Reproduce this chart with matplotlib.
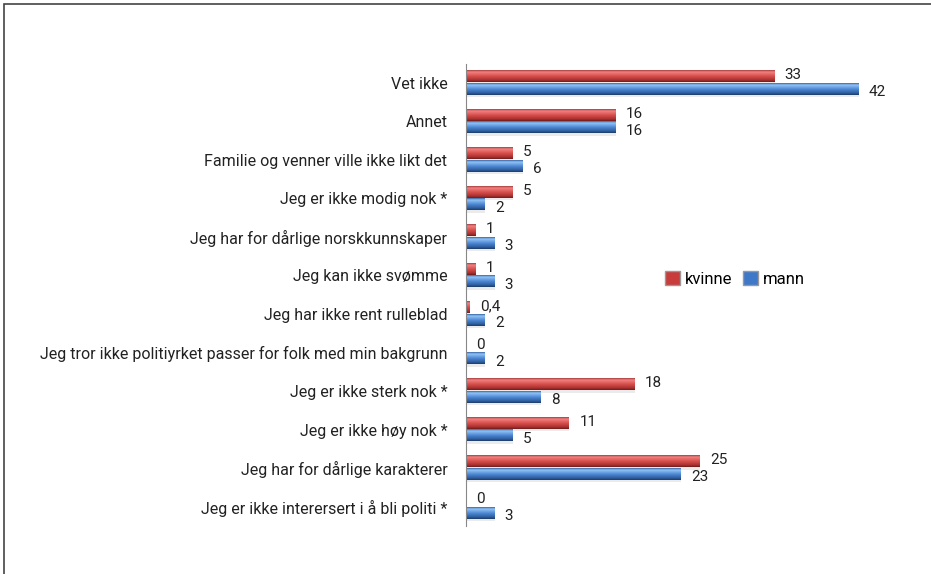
import numpy as np
import matplotlib
matplotlib.use("Agg")
import matplotlib.pyplot as plt
from matplotlib.colors import LinearSegmentedColormap
from matplotlib.patches import Patch, Rectangle

plt.rcParams['font.family'] = ['Roboto', 'DejaVu Sans']

# Données
categories = [
    "Vet ikke",
    "Annet",
    "Familie og venner ville ikke likt det",
    "Jeg er ikke modig nok *",
    "Jeg har for dårlige norskkunnskaper",
    "Jeg kan ikke svømme",
    "Jeg har ikke rent rulleblad",
    "Jeg tror ikke politiyrket passer for folk med min bakgrunn",
    "Jeg er ikke sterk nok *",
    "Jeg er ikke høy nok *",
    "Jeg har for dårlige karakterer",
    "Jeg er ikke interersert i å bli politi *",
]
kvinne = [33, 16, 5, 5, 1, 1, 0.4, 0, 18, 11, 25, 0]
mann = [42, 16, 6, 2, 3, 3, 2, 2, 8, 5, 23, 3]
series_names = ["kvinne", "mann"]

cmap_rouge = LinearSegmentedColormap.from_list(
    "rouge", [(0, "#a84040"), (0.15, "#f28282"), (0.5, "#d8504c"), (0.85, "#a83030"), (1, "#6e1c1c")])
cmap_bleu = LinearSegmentedColormap.from_list(
    "bleu", [(0, "#3a6aa8"), (0.15, "#92c4f6"), (0.5, "#4f8ad6"), (0.85, "#2d5c9c"), (1, "#1d3d6a")])

def etiquette(v):
    s = f"{v:g}"
    return s.replace(".", ",")

fig = plt.figure(figsize=(9.31, 5.74), dpi=100)
ax = fig.add_axes([0.5, 0.084, 0.4513, 0.805])

y = np.arange(len(categories))
h = 0.29
decal = 0.166
grad = np.linspace(0, 1, 32).reshape(-1, 1)

for valeurs, cm, sens in [(kvinne, cmap_rouge, -1), (mann, cmap_bleu, 1)]:
    for yi, v in zip(y, valeurs):
        yc = yi + sens * decal
        if v > 0:
            # ombre
            ax.barh(yc + 0.06, v + 0.12, height=h, color="#000000", alpha=0.08, zorder=1)
            ax.imshow(grad, cmap=cm, aspect="auto", interpolation="bilinear",
                      extent=(0, v, yc + h / 2, yc - h / 2), zorder=2)
        dy = 1 if sens < 0 else -2
        ax.annotate(etiquette(v), (v, yc), xytext=(8, dy), textcoords="offset points",
                    va="center", ha="left", fontsize=11, color="#222222")

ax.set_xlim(0, 45)
ax.set_ylim(len(categories) - 0.5, -0.5)
ax.set_yticks(y)
ax.set_yticklabels(categories, fontsize=11.5, color="#222222")
ax.tick_params(axis="y", length=0, pad=13)
ax.set_xticks([])
for side in ["top", "right", "bottom"]:
    ax.spines[side].set_visible(False)
ax.spines["left"].set_color("#888888")

handles = [Patch(facecolor="#c83c3c", edgecolor="#999999"),
           Patch(facecolor="#3f78c8", edgecolor="#999999")]
ax.legend(handles, series_names, loc="center left", bbox_to_anchor=(0.44, 0.534),
          ncol=2, frameon=False, fontsize=12, handlelength=0.9, handleheight=0.9,
          handletextpad=0.3, columnspacing=0.6)

# cadre
fig.patches.append(Rectangle((4 / 931, -0.5), 2, 1.5 - 4 / 574, transform=fig.transFigure,
                             fill=False, edgecolor="#444444", linewidth=1.2))

fig.savefig("out.png", dpi=100)
